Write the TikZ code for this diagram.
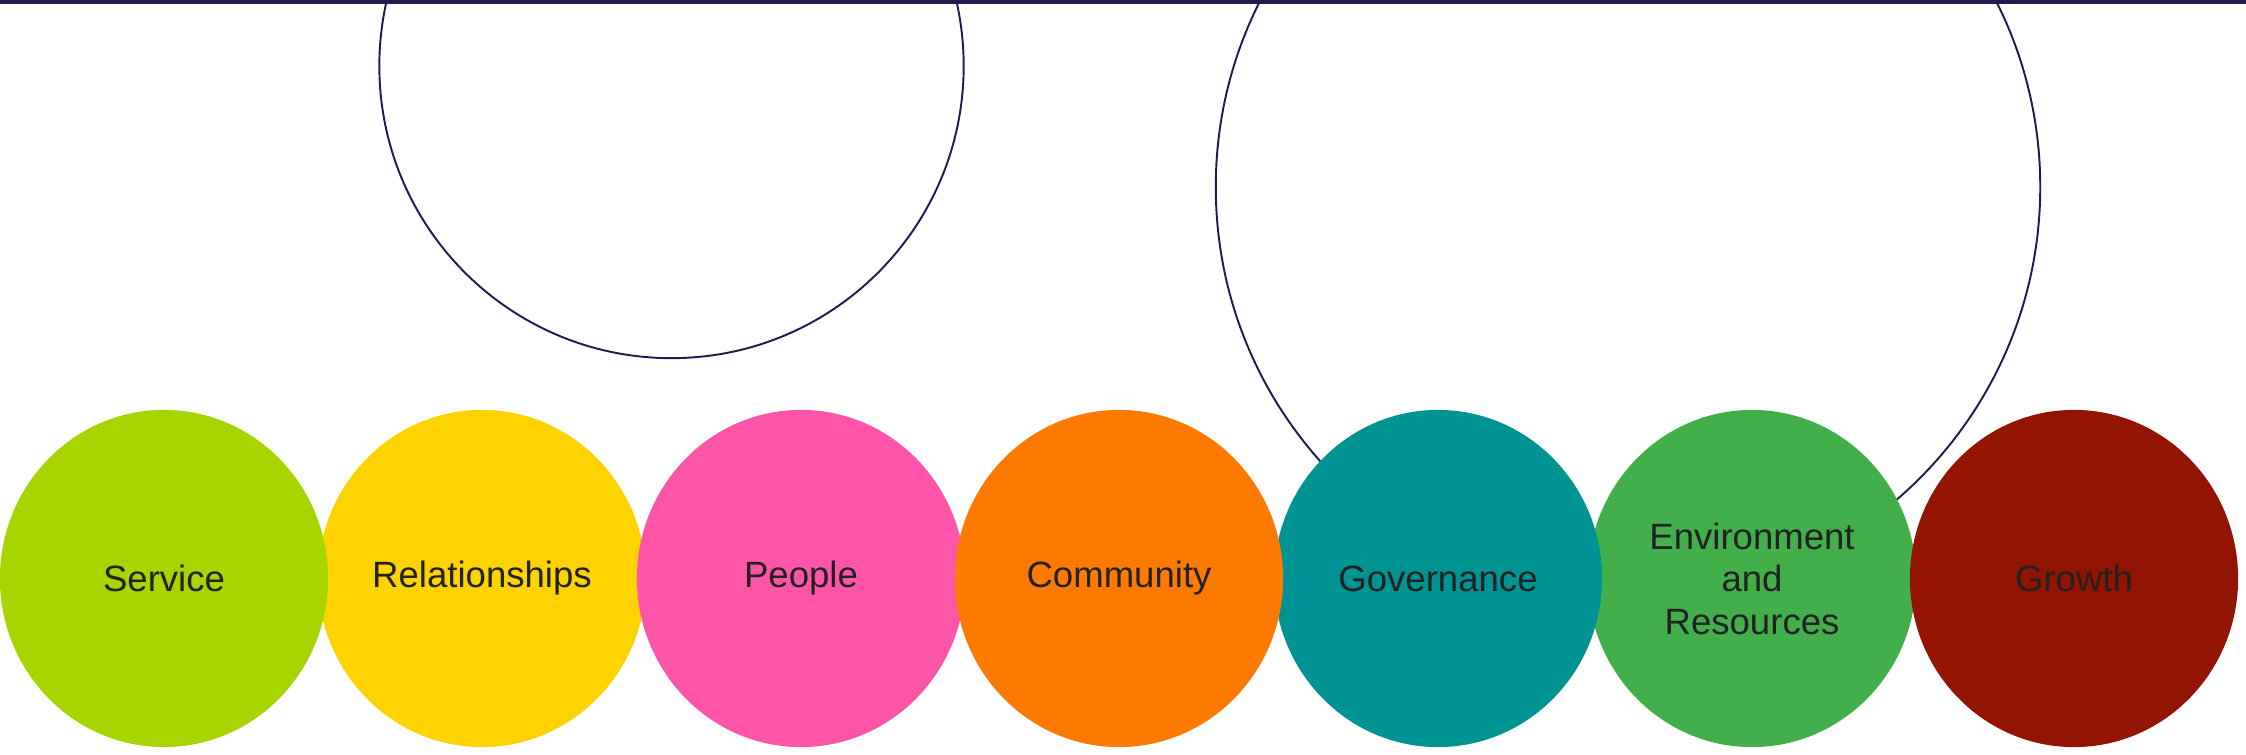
\documentclass[tikz,border=0pt]{standalone}
\usepackage{fontspec}
\setmainfont{Liberation Sans}
\usetikzlibrary{shapes.geometric}

\definecolor{navy}{HTML}{231A4F}
\definecolor{labelgrey}{HTML}{222222}
\definecolor{servicegreen}{HTML}{A8D400}
\definecolor{relyellow}{HTML}{FFD300}
\definecolor{peoplepink}{HTML}{FF55A8}
\definecolor{commorange}{HTML}{FF7A00}
\definecolor{govteal}{HTML}{009393}
\definecolor{envgreen}{HTML}{42AF4B}
\definecolor{growthred}{HTML}{931400}

\begin{document}
\begin{tikzpicture}[
    x=0.01cm, y=-0.01cm,  % one unit = one pixel, y downwards
    % Styles
    pillar/.style={ellipse, draw=none, minimum width=3.28cm, minimum height=3.37cm, inner sep=0pt, align=center, text=labelgrey, font=\fontsize{10.4pt}{12.1pt}\selectfont},
    ring/.style={draw=navy, line width=0.55pt},
]

% Frame of the picture
\useasboundingbox (0,0) rectangle (2246,755);
\clip (0,0) rectangle (2246,755);

% Outline circles behind the row
\draw[ring] (671.5,66) circle[radius=2.92cm];
\draw[ring] (1628,187) circle[radius=4.12cm];

% Top rule
\draw[navy, line width=1.14pt] (0,2) -- (2246,2);

% Row of values (drawn in stacking order, so positions are absolute)
\node[pillar, fill=relyellow] (relationships) at (482,578.5) {Relationships};
\node[pillar, fill=servicegreen] (service) at (164,578.5) {Service};
\node[pillar, fill=peoplepink] (people) at (801,578.5) {People};
\node[pillar, fill=envgreen] (environment) at (1752,578.5) {Environment\\and\\Resources};
\node[pillar, fill=govteal] (governance) at (1438,578.5) {Governance};
\node[pillar, fill=commorange] (community) at (1119,578.5) {Community};
\node[pillar, fill=growthred] (growth) at (2074,578.5) {Growth};

\end{tikzpicture}
\end{document}
